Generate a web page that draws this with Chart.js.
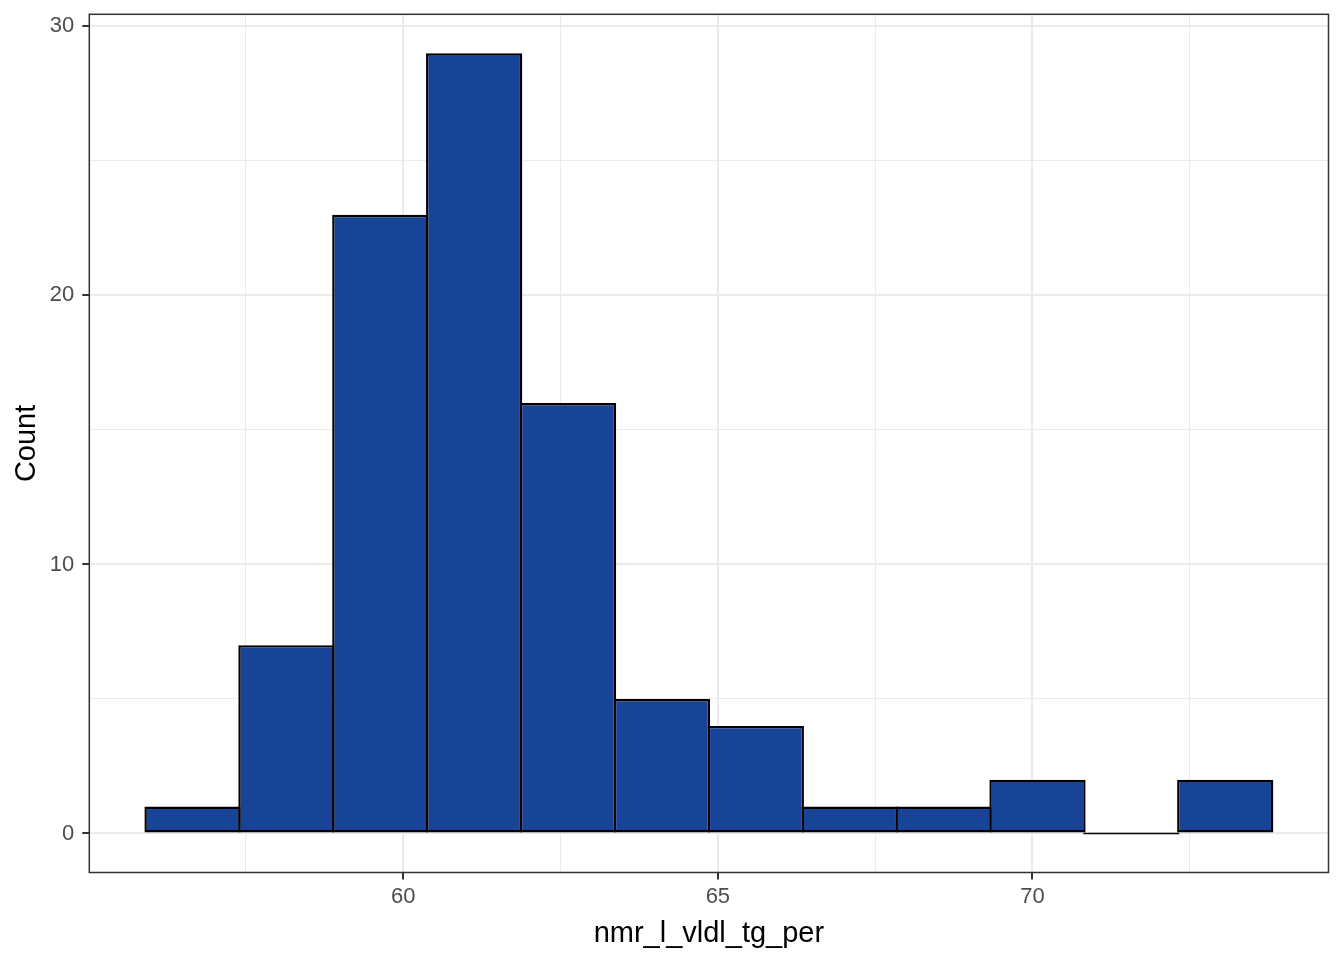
<!DOCTYPE html>
<html>
<head>
<meta charset="utf-8">
<title>nmr_l_vldl_tg_per histogram</title>
<script src="https://cdn.jsdelivr.net/npm/chart.js@4/dist/chart.umd.min.js"></script>
<style>
  html, body { margin: 0; padding: 0; background: #ffffff; }
  #wrap { width: 1344px; height: 960px; }
</style>
</head>
<body>
<div id="wrap"><canvas id="histChart" width="1344" height="960"></canvas></div>
<script>
// histogram bins (centres) and counts
const binCenters = [56.651, 58.143, 59.635, 61.127, 62.619, 64.111, 65.603, 67.096, 68.588, 70.080, 71.572, 73.064];
const binCounts = [1, 7, 23, 29, 16, 5, 4, 1, 1, 2, 0, 2];
const xTicks = [57.5, 60, 62.5, 65, 67.5, 70, 72.5];
const yTicks = [0, 5, 10, 15, 20, 25, 30];
const xMajor = [60, 65, 70];
const yMajor = [0, 10, 20, 30];

const isMajorX = v => xMajor.includes(v);
const isMajorY = v => yMajor.includes(v);

const barBorder = 2.4;

// ggplot-style panel border
const panelBorder = {
  id: 'panelBorder',
  afterDraw(chart) {
    const { ctx, chartArea } = chart;
    ctx.save();
    ctx.strokeStyle = '#333333';
    ctx.lineWidth = 1.5;
    ctx.strokeRect(chartArea.left, chartArea.top, chartArea.right - chartArea.left, chartArea.bottom - chartArea.top);
    ctx.restore();
  }
};

const ctx = document.getElementById('histChart');
new Chart(ctx, {
  type: 'bar',
  data: {
    datasets: [{
      label: 'Count',
      data: binCenters.map((c, i) => ({ x: c, y: binCounts[i] })),
      backgroundColor: '#174497',
      borderColor: '#000000',
      borderWidth: barBorder,
      borderSkipped: false,
      // widen a touch so neighbouring outlines overlap like ggplot's shared edges
      barPercentage: (94 + barBorder) / 94,
      categoryPercentage: 1,
      minBarLength: 2
    }]
  },
  options: {
    responsive: false,
    animation: false,
    layout: { padding: { top: 14.3, right: 15.5, left: 0, bottom: 0 } },
    plugins: {
      legend: { display: false },
      tooltip: { enabled: false }
    },
    scales: {
      x: {
        type: 'linear',
        min: 55.01,
        max: 74.705,
        offset: false,
        afterBuildTicks: scale => { scale.ticks = xTicks.map(v => ({ value: v })); },
        afterFit: scale => {
          scale.height = 87.5;
          scale.paddingLeft = 0;
          scale.paddingRight = 0;
        },
        border: { display: false },
        grid: {
          offset: false,
          color: '#EBEBEB',
          lineWidth: c => (c.tick && isMajorX(c.tick.value)) ? 2 : 1,
          tickLength: 7,
          tickWidth: 2,
          tickColor: c => (c.tick && isMajorX(c.tick.value)) ? '#333333' : 'rgba(0,0,0,0)'
        },
        ticks: {
          autoSkip: false,
          maxRotation: 0,
          padding: 4,
          color: '#4D4D4D',
          font: { family: 'Liberation Sans, Arial, sans-serif', size: 22 },
          callback: v => isMajorX(v) ? v : ''
        },
        title: {
          display: true,
          text: 'nmr_l_vldl_tg_per',
          color: '#000000',
          font: { family: 'Liberation Sans, Arial, sans-serif', size: 29, lineHeight: 1.2 },
          padding: { top: 0, bottom: 9 }
        }
      },
      y: {
        min: -1.45,
        max: 30.45,
        afterBuildTicks: scale => { scale.ticks = yTicks.map(v => ({ value: v })); },
        afterFit: scale => {
          scale.width = 89.3;
          scale.paddingTop = 0;
          scale.paddingBottom = 0;
        },
        border: { display: false },
        grid: {
          color: '#EBEBEB',
          lineWidth: c => (c.tick && isMajorY(c.tick.value)) ? 2 : 1,
          tickLength: 7,
          tickWidth: 2,
          tickColor: c => (c.tick && isMajorY(c.tick.value)) ? '#333333' : 'rgba(0,0,0,0)'
        },
        ticks: {
          autoSkip: false,
          padding: 8,
          color: '#4D4D4D',
          font: { family: 'Liberation Sans, Arial, sans-serif', size: 22 },
          callback: v => isMajorY(v) ? v : ''
        },
        title: {
          display: true,
          text: 'Count',
          color: '#000000',
          font: { family: 'Liberation Sans, Arial, sans-serif', size: 29, lineHeight: 1.2 },
          padding: { top: 10, bottom: 0 }
        }
      }
    }
  },
  plugins: [panelBorder]
});
</script>
</body>
</html>
